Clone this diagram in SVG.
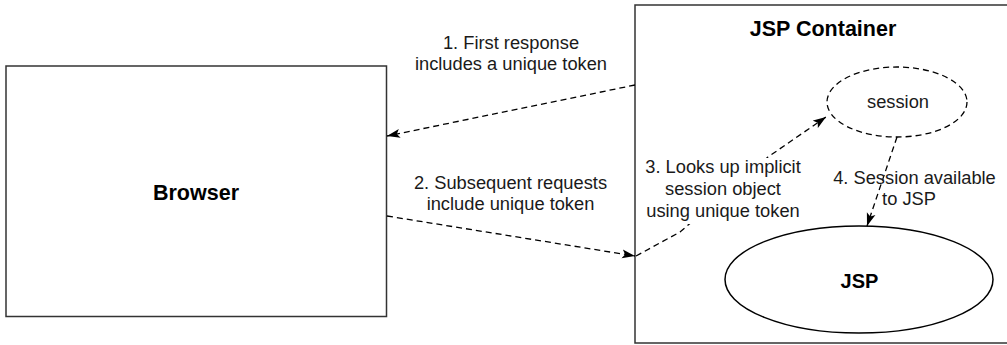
<svg xmlns="http://www.w3.org/2000/svg" width="1007" height="345" viewBox="0 0 1007 345">
  <style>
    .box { fill: #ffffff; stroke: #333333; stroke-width: 1.5; }
    .ell { fill: #ffffff; stroke: #000000; stroke-width: 1.5; }
    .dashell { fill: #ffffff; stroke: #000000; stroke-width: 1.3; stroke-dasharray: 6 4; }
    .conn { fill: none; stroke: #000000; stroke-width: 1.3; stroke-dasharray: 6 4; marker-end: url(#arrow); }
    .lbl { font-family: "Liberation Sans", Arial, sans-serif; font-size: 18.3px; fill: #1a1a1a; text-anchor: middle; }
    .title { font-family: "Liberation Sans", Arial, sans-serif; font-weight: bold; fill: #000000; text-anchor: middle; }
  </style>
  <defs>
    <marker id="arrow" markerUnits="userSpaceOnUse" markerWidth="14" markerHeight="10" refX="13" refY="5" orient="auto">
      <path d="M0,0.5 L13,5 L0,9.5 L3,5 Z" fill="#000000"/>
    </marker>
  </defs>

  <rect width="1007" height="345" fill="#ffffff"/>

  <g id="browser">
    <rect class="box" x="6" y="66" width="380.5" height="250.5"/>
    <text class="title" x="196" y="200" font-size="21.5">Browser</text>
  </g>

  <g id="jsp-container">
    <rect class="box" x="635" y="5" width="385" height="338"/>
    <text class="title" x="823" y="36" font-size="21.5">JSP Container</text>
  </g>

  <g id="session">
    <ellipse class="dashell" cx="897" cy="102" rx="70" ry="35"/>
    <text class="lbl" x="898" y="108" font-size="16.8">session</text>
  </g>

  <g id="jsp">
    <ellipse class="ell" cx="859" cy="279.5" rx="134" ry="53.5"/>
    <text class="title" x="859.5" y="288" font-size="20">JSP</text>
  </g>

  <g id="connectors">
    <line class="conn" x1="635" y1="85" x2="387" y2="136"/>
    <line class="conn" x1="387" y1="216" x2="635" y2="256"/>
    <path class="conn" d="M636,256 L680,232 L768,157 L826,117"/>
    <line class="conn" x1="897" y1="137" x2="867" y2="226"/>
  </g>

  <g id="labels">
    <text class="lbl" x="511" y="49">1. First response</text>
    <text class="lbl" x="511" y="70">includes a unique token</text>
    <text class="lbl" x="510.5" y="189">2. Subsequent requests</text>
    <text class="lbl" x="510.5" y="210">include unique token</text>
    <rect x="640" y="158" width="168" height="66" fill="#ffffff"/>
    <text class="lbl" x="723" y="172.5">3. Looks up implicit</text>
    <text class="lbl" x="723" y="195">session object</text>
    <text class="lbl" x="723" y="216.5">using unique token</text>
    <text class="lbl" x="914.5" y="184">4. Session available</text>
    <text class="lbl" x="909" y="205">to JSP</text>
  </g>
</svg>
